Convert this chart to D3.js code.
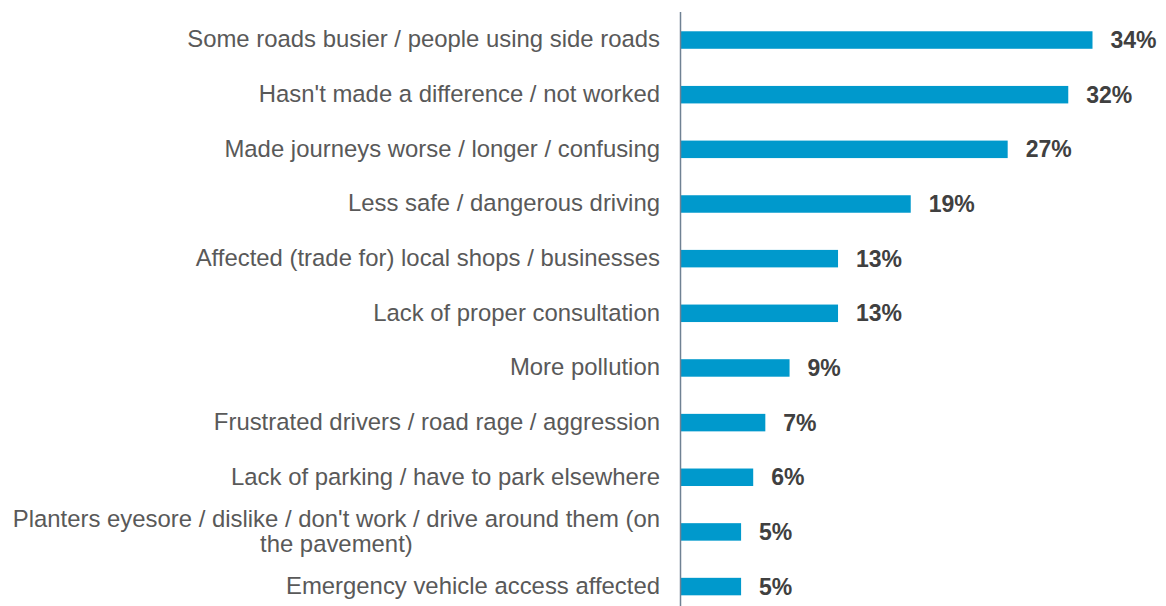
<!DOCTYPE html>
<html><head><meta charset="utf-8">
<script src="https://cdn.jsdelivr.net/npm/d3@7"></script>
<style>body{margin:0;background:#fff;}svg{display:block;}</style>
</head><body>
<svg id="c" width="1166" height="606"></svg>
<script>
const categories = [
  ["Some roads busier / people using side roads"],
  ["Hasn't made a difference / not worked"],
  ["Made journeys worse / longer / confusing"],
  ["Less safe / dangerous driving"],
  ["Affected (trade for) local shops / businesses"],
  ["Lack of proper consultation"],
  ["More pollution"],
  ["Frustrated drivers / road rage / aggression"],
  ["Lack of parking / have to park elsewhere"],
  ["Planters eyesore / dislike / don't work / drive around them (on", "the pavement)"],
  ["Emergency vehicle access affected"]
];
const values = [34, 32, 27, 19, 13, 13, 9, 7, 6, 5, 5];
const valueLabels = ["34%", "32%", "27%", "19%", "13%", "13%", "9%", "7%", "6%", "5%", "5%"];

const svg = d3.select("#c");
const x0 = 680.5;
const x = d3.scaleLinear().domain([0, 34]).range([x0, x0 + 412]);
const idx = d3.range(values.length);
const y = d3.scaleBand().domain(idx).range([12.7, 613.9]).paddingInner(0.68).paddingOuter(0.34);

svg.selectAll("rect.bar").data(idx).enter().append("rect")
  .attr("class", "bar")
  .attr("x", x(0))
  .attr("y", i => y(i))
  .attr("width", i => x(values[i]) - x(0))
  .attr("height", y.bandwidth())
  .attr("fill", "#0099CC");

svg.append("line").attr("x1", x0).attr("x2", x0).attr("y1", 12).attr("y2", 606)
  .attr("stroke", "#6F8193").attr("stroke-width", 1.5);

svg.selectAll("text.val").data(idx).enter().append("text")
  .attr("class", "val")
  .attr("x", i => x(values[i]) + 18)
  .attr("y", i => y(i) + y.bandwidth() / 2)
  .attr("dy", "0.35em")
  .attr("font-family", "Liberation Sans, Arial, sans-serif")
  .attr("font-size", 23).attr("font-weight", "bold")
  .attr("fill", "#404040")
  .text(i => valueLabels[i]);

const labelRight = 660;
idx.forEach(i => {
  const lines = categories[i];
  const cy = y(i) + y.bandwidth() / 2;
  const lh = 25;
  const g = svg.append("g");
  const t1 = g.append("text")
    .attr("x", labelRight)
    .attr("y", cy - (lines.length - 1) * lh / 2 - 1)
    .attr("dy", "0.35em")
    .attr("text-anchor", "end")
    .attr("font-family", "Liberation Sans, Arial, sans-serif")
    .attr("font-size", 23.9).attr("fill", "#595959")
    .text(lines[0]);
  if (lines.length > 1) {
    const w = t1.node().getComputedTextLength();
    const center = labelRight - w / 2;
    for (let k = 1; k < lines.length; k++) {
      g.append("text")
        .attr("x", center)
        .attr("y", cy - (lines.length - 1) * lh / 2 + k * lh - 1)
        .attr("dy", "0.35em")
        .attr("text-anchor", "middle")
        .attr("font-family", "Liberation Sans, Arial, sans-serif")
        .attr("font-size", 23.9).attr("fill", "#595959")
        .text(lines[k]);
    }
  }
});
</script>
</body></html>
